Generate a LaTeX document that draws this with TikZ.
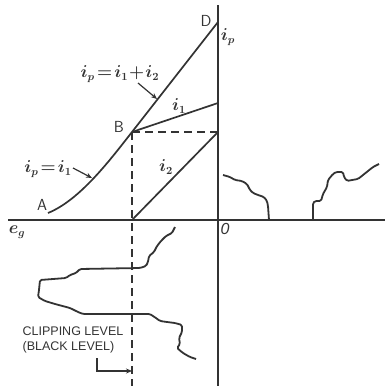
\documentclass[tikz,border=0pt]{standalone}
\usepackage{fontspec}
\setmainfont{Liberation Sans}
\usetikzlibrary{arrows.meta,positioning}
\definecolor{PlotInk}{HTML}{333333}

\begin{document}
\begin{tikzpicture}[x=1pt,y=-1pt,
        axis/.style={line width=1.5pt,PlotInk},
        ink/.style={line width=1.7pt,PlotInk},
        cliplevel/.style={line width=1.5pt,PlotInk,dash pattern=on 8pt off 5pt},
        lbl/.style={font=\fontsize{16}{18}\selectfont\boldmath,text=PlotInk,inner sep=0pt},
        note/.style={font=\fontsize{12.5}{14}\selectfont,text=PlotInk,inner sep=0pt},
        arr/.style={-{Stealth[length=6pt,width=5pt]},line width=1.2pt,PlotInk},
        wave/.style={line width=1.8pt,PlotInk,line join=round,rounded corners=1.5pt}
      ]
        \useasboundingbox (0,0) rectangle (385,386);
        % axes
        \coordinate (O) at (218,220);
        \coordinate (ytop) at (218,5);
        \coordinate (ybot) at (218,386);
        \coordinate (xleft) at (8,220);
        \coordinate (xright) at (385,220);
        \draw[axis] (ytop) -- (ybot);
        \draw[axis] (xleft) -- (xright);
        % characteristic
        \coordinate (A) at (48,213);
        \coordinate (B) at (132,132);
        \coordinate (D) at (218,22);
        \coordinate (Bx) at (132,220);
        \coordinate (Bd) at (132,386);
        \coordinate (By) at (218,132);
        \coordinate (i1end) at (218,103);
        \draw[ink] (A) .. controls (80,200) and (110,160) .. (B) -- (D);
        \draw[ink] (B) -- (i1end);
        \draw[ink] (Bx) -- (By);
        \draw[cliplevel] (B) -- (By);
        \draw[cliplevel] (B) -- (Bd);
        % labels
        \node[lbl] (lA) at (42,205) {\textsf{A}};
        \node[lbl] (lB) at (119,127) {\textsf{B}};
        \node[lbl] (lD) at (206,21) {\textsf{D}};
        \node[lbl] (lip) at (228,37) {$i_p$};
        \node[lbl] (li1) at (179,106) {$i_1$};
        \node[lbl] (li2) at (166,167) {$i_2$};
        \node[lbl] (leg) at (17,232) {$e_g$};
        \node[lbl] (lO) at (225,229) {\textit{0}};
        \node[lbl] (lsum) at (120,74) {$i_p\!=\!i_1\!+\!i_2$};
        \node[lbl] (lone) at (48,169) {$i_p\!=\!i_1$};
        \coordinate (sumtail) at (138,83);
        \coordinate (sumtip) at (157,99);
        \coordinate (onetail) at (73,168);
        \coordinate (onetip) at (92,178);
        \draw[arr] (sumtail) -- (sumtip);
        \draw[arr] (onetail) -- (onetip);
        % clipping level note
        \node[note] (clip) at (73,331) {CLIPPING LEVEL};
        \node[note,below=6pt of clip.south west,anchor=north west] (black) {(BLACK LEVEL)};
        \coordinate (cliptail) at (97,358);
        \coordinate (cliptip) at (132,371);
        \draw[arr] (cliptail) |- (cliptip);
        % grid signal
        \draw[wave] (175,227) -- (172,233) -- (166,236) -- (161,241) -- (157,246)
          -- (154,252) -- (149,256) -- (148,262) -- (146,266) -- (140,268)
          -- (80,269) -- (76,273) -- (70,275) -- (66,278) -- (40,280)
          -- (39,290) -- (38,297) -- (45,301) -- (55,304) -- (70,308)
          -- (78,312) -- (83,314) -- (150,314) -- (156,318) -- (160,321)
          -- (167,322) -- (175,323) -- (182,325) -- (182,332) -- (179,338)
          -- (180,344) -- (177,348) -- (183,353) -- (190,357) -- (196,359);
        % plate current
        \draw[wave] (223,175) -- (230,177) -- (235,180) -- (242,181) -- (247,184)
          -- (250,190) -- (253,193) -- (258,195) -- (264,197) -- (267,201)
          -- (268,206) -- (269,220);
        \draw[wave] (313,220) -- (313,203) -- (315,201) -- (321,201) -- (323,194)
          -- (327,187) -- (328,180) -- (333,174) -- (336,172) -- (343,172)
          -- (344,177) -- (347,181) -- (352,180) -- (358,179) -- (363,175)
          -- (368,171) -- (373,167) -- (379,164);
      \end{tikzpicture}
\end{document}
